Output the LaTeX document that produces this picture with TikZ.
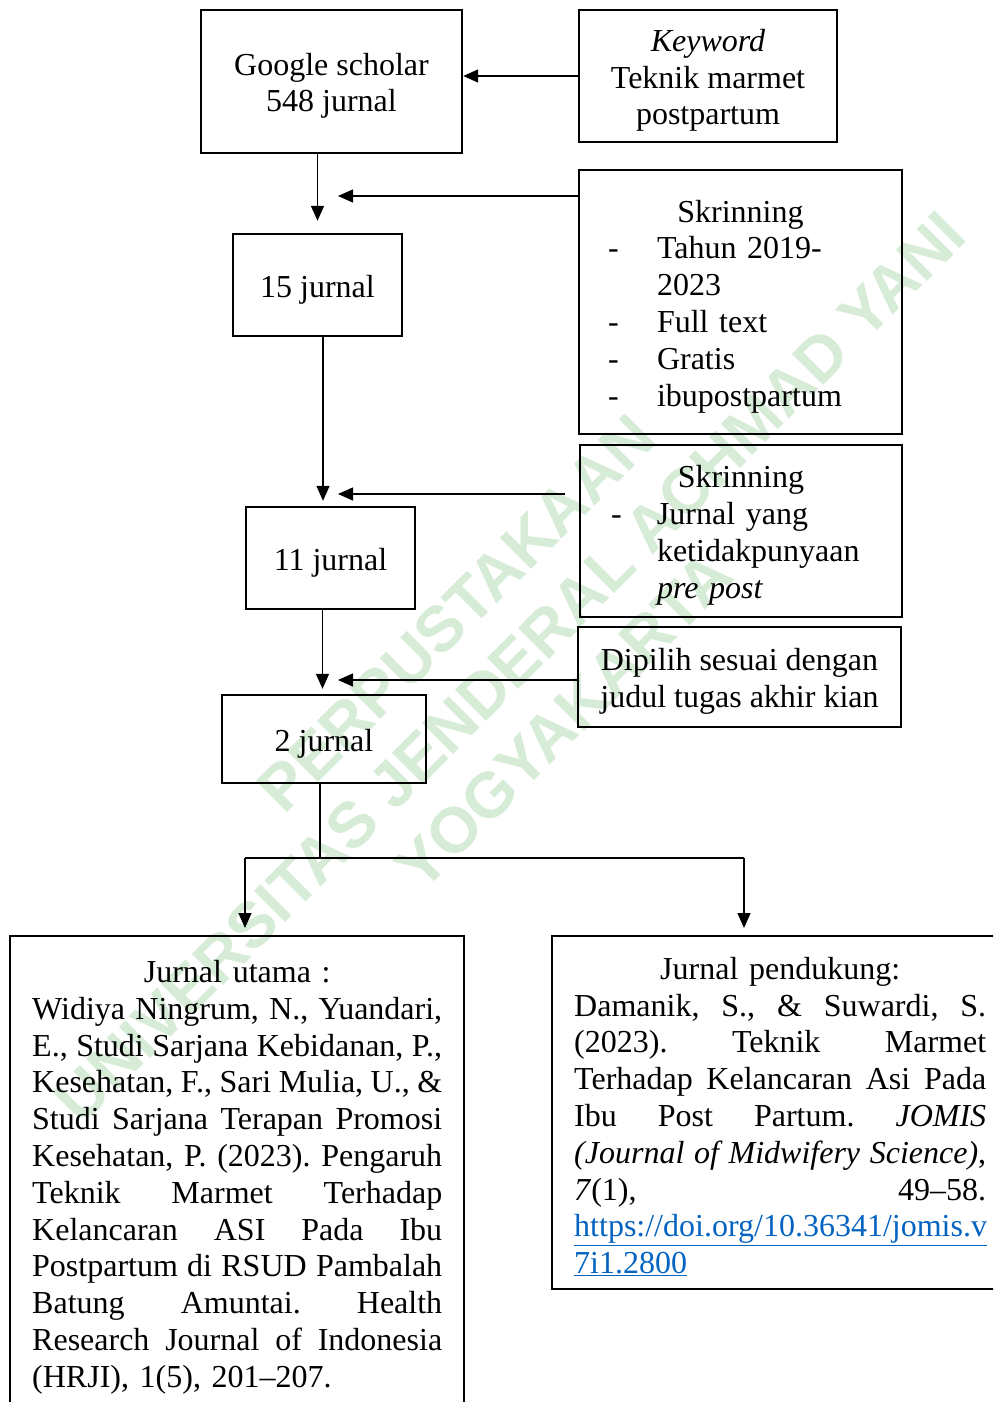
\documentclass[tikz,border=0pt]{standalone}
\usepackage{fontspec}
\setmainfont{Liberation Serif}
\newfontfamily\wmfont{Liberation Sans}
\usetikzlibrary{arrows.meta,calc}
\definecolor{wmgreen}{RGB}{214,236,214}
\definecolor{linkblue}{RGB}{5,99,193}
\newcommand\jst[2]{\leavevmode\hbox to #1{\spaceskip=0pt plus 1fil\xspaceskip=0pt plus 1fil\relax #2}}
\newcommand\dsh[1]{\makebox[#1][l]{\hspace*{-4pt}-}}
\newcommand\tstrut{\rule{0pt}{31pt}}
\frenchspacing
\begin{document}
\begin{tikzpicture}[x=1pt,y=-1pt,
  txt/.style={font=\fontsize{32}{36.8}\selectfont\frenchspacing},
  box/.style={txt,draw,line width=2.4pt,inner sep=0pt,align=center},
  boxs/.style={box,execute at begin node={\tstrut}},
  conn/.style={line width=1.4pt},
  arr/.style={conn,-{Triangle[length=15pt,width=13pt]}},
  wm/.style={rotate=45,text=wmgreen,align=center,font=\wmfont\bfseries\fontsize{64}{76}\selectfont}
]
\useasboundingbox (0,0) rectangle (993,1402);
\clip (0,0) rectangle (993,1402);
\fill[white] (0,0) rectangle (993,1402);

% watermark
\node[wm] (wmark) at (510,667) {PERPUSTAKAAN\\UNIVERSITAS JENDERAL ACHMAD YANI\\YOGYAKARTA};

% boxes
\node[box,minimum width=261pt,minimum height=143pt] (google) at (331.5,81.5) {\tstrut Google scholar\\548 jurnal};
\node[box,minimum width=258pt,minimum height=132pt] (key) at (708,76) {\tstrut\textit{Keyword}\\Teknik marmet\\postpartum};
\node[boxs,align=left,text width=257pt,inner xsep=33pt,minimum height=264pt] (sk1) at (740.5,302)
 {\makebox[257pt][c]{Skrinning}\\
  \dsh{45pt}Tahun 2019-\\
  \hspace*{45pt}2023\\
  \dsh{45pt}Full text\\
  \dsh{45pt}Gratis\\
  \dsh{45pt}ibupostpartum};
\node[boxs,minimum width=169pt,minimum height=102pt] (j15) at (317.5,285) {15 jurnal};
\node[boxs,align=left,text width=252pt,inner xsep=35pt,minimum height=172pt] (sk2) at (741,531)
 {\makebox[252pt][c]{Skrinning}\\
  \dsh{42pt}Jurnal yang\\
  \hspace*{42pt}ketidakpunyaan\\
  \hspace*{42pt}\textit{pre post}};
\node[boxs,minimum width=169pt,minimum height=102pt] (j11) at (330.5,558) {11 jurnal};
\node[box,minimum width=323pt,minimum height=100pt] (dip) at (739.5,677) {\tstrut Dipilih sesuai dengan\\judul tugas akhir kian};
\node[boxs,minimum width=204pt,minimum height=88pt] (j2) at (324,739) {2 jurnal};

\node[box,align=left,anchor=north west,text width=410pt,inner xsep=22pt,inner ysep=24pt] (utama) at (9,935)
 {\makebox[410pt][c]{Jurnal utama :}\\
  \jst{410pt}{Widiya Ningrum, N., Yuandari,}\\
  \jst{410pt}{E., Studi Sarjana Kebidanan, P.,}\\
  \jst{410pt}{Kesehatan, F., Sari Mulia, U., \&}\\
  \jst{410pt}{Studi Sarjana Terapan Promosi}\\
  \jst{410pt}{Kesehatan, P. (2023). Pengaruh}\\
  \jst{410pt}{Teknik Marmet Terhadap}\\
  \jst{410pt}{Kelancaran ASI Pada Ibu}\\
  \jst{410pt}{Postpartum di RSUD Pambalah}\\
  \jst{410pt}{Batung Amuntai. Health}\\
  \jst{410pt}{Research Journal of Indonesia}\\
  (HRJI), 1(5), 201--207.};
\node[box,align=left,anchor=north west,text width=412pt,inner xsep=22pt,inner ysep=13pt] (pend) at (551,935)
 {\rule{0pt}{30pt}\makebox[412pt][c]{Jurnal pendukung:}\\
  \jst{412pt}{Damanik, S., \& Suwardi, S.}\\
  \jst{412pt}{(2023). Teknik Marmet}\\
  \jst{412pt}{Terhadap Kelancaran Asi Pada}\\
  \jst{412pt}{Ibu Post Partum. \textit{JOMIS}}\\
  \jst{412pt}{\textit{(Journal of Midwifery Science)},}\\
  \jst{412pt}{\textit{7}(1), 49--58.}\\
  \textcolor{linkblue}{\underline{https://doi.org/10.36341/jomis.v}}\\
  \textcolor{linkblue}{\underline{7i1.2800}}};

% connector points
\coordinate (t1) at (338,196);
\coordinate (t2) at (338,494);
\coordinate (t3) at (338,680);
\coordinate (bl) at (245,858);
\coordinate (br) at (744,858);

% connectors
\draw[arr] (key.west) -- (google.east |- key.west);
\draw[arr,shorten >=12pt] (google.south -| j15.north) -- (j15.north);
\draw[arr] (sk1.west |- t1) -- (t1);
\draw[arr,shorten >=5pt] ([xshift=5.5pt]j15.south) -- ([xshift=5.5pt]j15.south |- j11.north);
\draw[arr] ([xshift=-14pt]sk2.west |- t2) -- (t2);
\draw[arr,shorten >=5pt] ([xshift=-8pt]j11.south) -- ([xshift=-8pt]j11.south |- j2.north);
\draw[arr] (dip.west |- t3) -- (t3);
\draw[conn] ([xshift=-4pt]j2.south) -- ([xshift=-4pt]j2.south |- bl);
\draw[conn] (bl) -- (br);
\draw[arr,shorten >=7pt] (bl) -- (bl |- utama.north);
\draw[arr,shorten >=7pt] (br) -- (br |- pend.north);
\end{tikzpicture}
\end{document}
